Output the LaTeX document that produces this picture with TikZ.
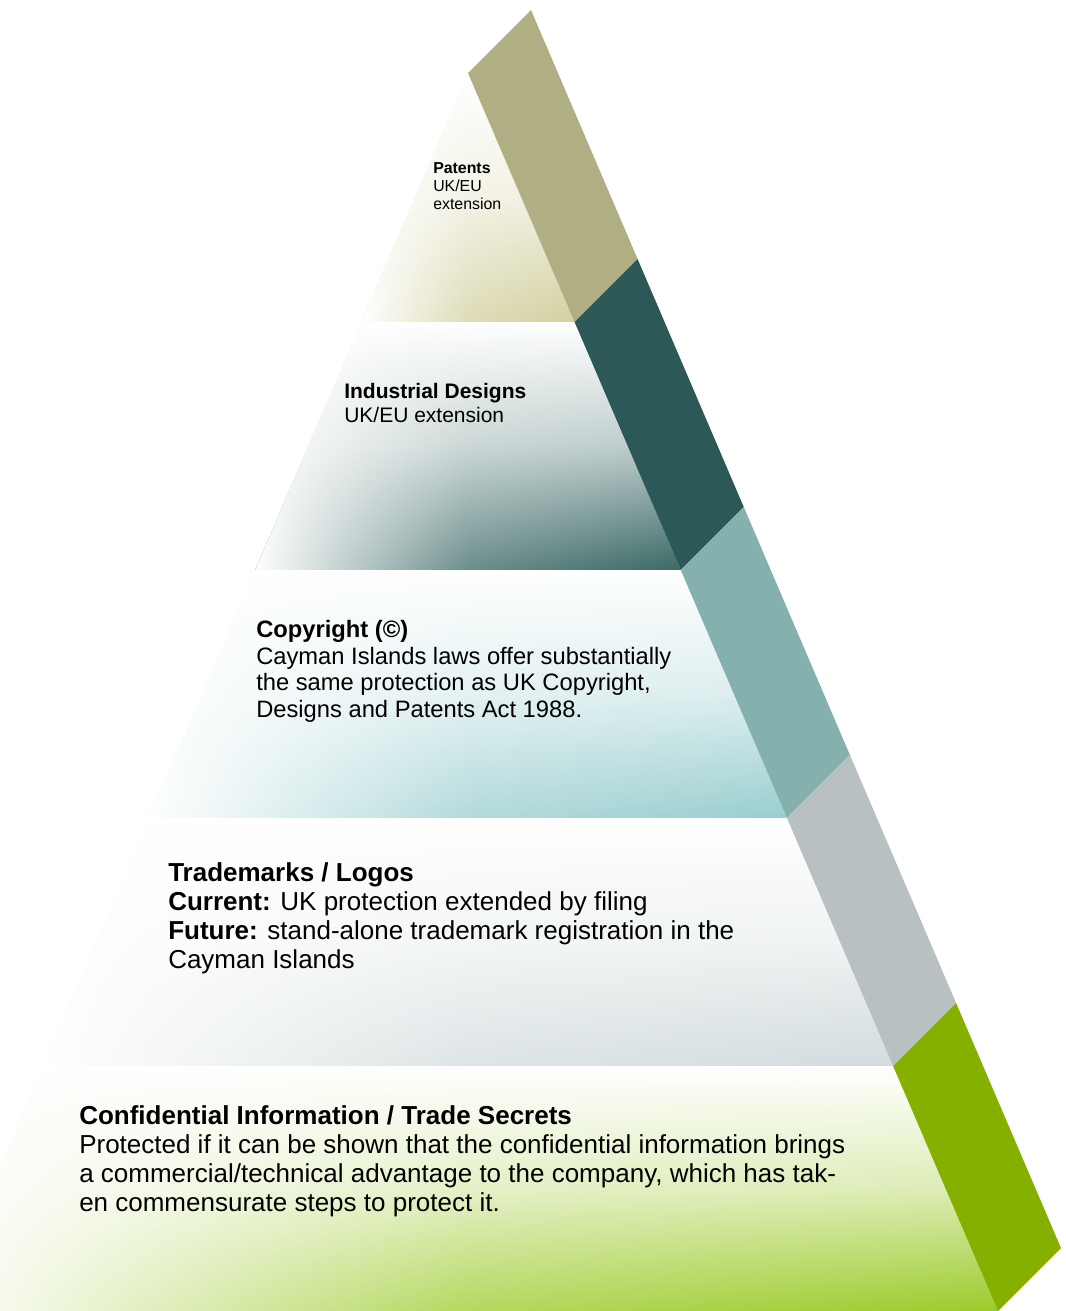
\documentclass[tikz,border=0pt]{standalone}
\usepackage{fontspec}
\setmainfont{Liberation Sans}
\usetikzlibrary{fadings}
\definecolor{patcol}{HTML}{D3D1A0}
\definecolor{descol}{HTML}{3B6966}
\definecolor{copcol}{HTML}{9ACED0}
\definecolor{tmcol}{HTML}{D3DCDE}
\definecolor{cscol}{HTML}{9DCB2B}
\definecolor{patband}{HTML}{B0AF84}
\definecolor{desband}{HTML}{2C5958}
\definecolor{copband}{HTML}{84B0AE}
\definecolor{tmband}{HTML}{B8C0C1}
\definecolor{csband}{HTML}{86B000}
\tikzfading[name=fadeleft, left color=transparent!0, right color=transparent!100, middle color=transparent!75]
\begin{document}
\begin{tikzpicture}[
    x=0.75pt, y=-0.75pt,
    tier/.style={top color=white, bottom color=#1, middle color=#1!35},
    whiten/.style={fill=white, path fading=fadeleft},
    band/.style={fill=#1, draw=none},
    tiertext/.style={anchor=base west, inner sep=0pt, align=left}
  ]
  \useasboundingbox (0,0) rectangle (1065,1311);
  \clip (0,0) rectangle (1065,1311);
  \foreach \ya/\yb/\c/\b in {73/322/patcol/patband, 322/570/descol/desband,
      570/818/copcol/copband, 818/1066/tmcol/tmband, 1066/1311/cscol/csband} {
    \pgfmathsetmacro\la{468-0.4281*(\ya-73)}
    \pgfmathsetmacro\ra{468+0.4281*(\ya-73)}
    \pgfmathsetmacro\lb{468-0.4281*(\yb-73)}
    \pgfmathsetmacro\rb{468+0.4281*(\yb-73)}
    \shade[tier=\c] (\la,\ya) -- (\ra,\ya) -- (\rb,\yb) -- (\lb,\yb) -- cycle;
    \fill[whiten] (\la,\ya) -- (\ra,\ya) -- (\rb,\yb) -- (\lb,\yb) -- cycle;
    \fill[band=\b] (\ra,\ya) -- (\rb,\yb) -- ++(63,-63) -- ({\ra+63},{\ya-63}) -- cycle;
  }
  \node[tiertext, font=\fontsize{11.9}{13.5}\selectfont] (patents) at (433,209.3)
    {\textbf{Patents}\\UK/EU\\extension};
  \node[tiertext, font=\fontsize{15.75}{18}\selectfont] (designs) at (344,422.3)
    {\textbf{Industrial Designs}\\UK/EU extension};
  \node[tiertext, font=\fontsize{17.8}{19.95}\selectfont] (copyright) at (256,717.5)
    {\textbf{Copyright (©)}\\Cayman Islands laws offer substantially\\the same protection as UK Copyright,\\Designs and Patents Act 1988.};
  \node[tiertext, font=\fontsize{19.5}{21.75}\selectfont] (marks) at (168,968.7)
    {\textbf{Trademarks / Logos}\\\textbf{Current:} UK protection extended by filing\\\textbf{Future:} stand-alone trademark registration in the\\Cayman Islands};
  \node[tiertext, font=\fontsize{19.5}{21.75}\selectfont] (secrets) at (79,1211)
    {\textbf{Confidential Information / Trade Secrets}\\Protected if it can be shown that the confidential information brings\\a commercial/technical advantage to the company, which has tak-\\en commensurate steps to protect it.};
\end{tikzpicture}
\end{document}
